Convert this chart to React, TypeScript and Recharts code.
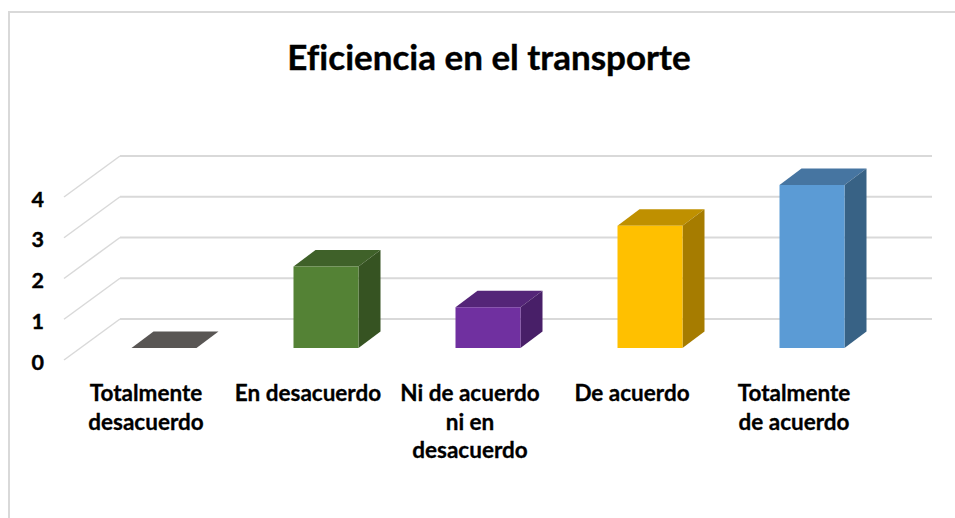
import { BarChart, Bar, XAxis, YAxis, CartesianGrid } from 'recharts';

const FONT = 'Lato, "Open Sans", sans-serif';

const categories = ['Totalmente desacuerdo', 'En desacuerdo', 'Ni de acuerdo ni en desacuerdo', 'De acuerdo', 'Totalmente de acuerdo'];
const categoryLines = [
    ['Totalmente', 'desacuerdo'],
    ['En desacuerdo'],
    ['Ni de acuerdo', 'ni en', 'desacuerdo'],
    ['De acuerdo'],
    ['Totalmente', 'de acuerdo'],
];
const values = [0, 2, 1, 3, 4];
const yTicks = [0, 1, 2, 3, 4];

// front / top / side of each box
const frontColors = ['#595654', '#548235', '#7030A0', '#FFC000', '#5B9BD5'];
const topColors = ['#595654', '#3F6129', '#542578', '#BF9000', '#4675A1'];
const sideColors = ['#4A4846', '#365322', '#481F68', '#A67C00', '#386285'];

const chartData = categories.map((name, i) => ({ name, value: values[i] }));

const DEPTH_X = 22;
const DEPTH_Y = 16.5;

function Box3D(props: any) {
    const { x, y, width, height, index } = props;
    const r = x + width;
    const b = y + height;
    return (
        <g>
            <polygon
                points={`${x},${y} ${x + DEPTH_X},${y - DEPTH_Y} ${r + DEPTH_X},${y - DEPTH_Y} ${r},${y}`}
                fill={topColors[index]}
            />
            <polygon
                points={`${r},${y} ${r + DEPTH_X},${y - DEPTH_Y} ${r + DEPTH_X},${b - DEPTH_Y} ${r},${b}`}
                fill={sideColors[index]}
            />
            {height > 0 && <rect x={x} y={y} width={width} height={height} fill={frontColors[index]} />}
        </g>
    );
}

// wall line: runs in from the axis, then along the back wall
function WallLine(props: any) {
    const y = props.y1;
    return (
        <g key={props.key}>
            <line x1={64} y1={y + 12} x2={120} y2={y - 29} stroke="#D9D9D9" strokeWidth={1.5} />
            <line x1={120} y1={y - 29} x2={932} y2={y - 29} stroke="#D9D9D9" strokeWidth={2} />
        </g>
    );
}

function YTick(props: any) {
    const { y, payload } = props;
    return (
        <text x={44} y={y + 21.5} textAnchor="end" fontFamily={FONT} fontWeight={700} fontSize={21.5} fill="#000" stroke="#000" strokeWidth={0.4}>
            {payload.value}
        </text>
    );
}

function XTick(props: any) {
    const { x, payload } = props;
    const lines = categoryLines[payload.index];
    return (
        <text textAnchor="middle" fontFamily={FONT} fontWeight={700} fontSize={22.5} fill="#000" stroke="#000" strokeWidth={0.3}>
            {lines.map((line: string, i: number) => (
                <tspan key={i} x={x - 17.5} y={401 + i * 28.5}>
                    {line}
                </tspan>
            ))}
        </text>
    );
}

export default function App() {
    return (
        <div style={{ position: 'absolute', left: 0, top: 0, width: 955, height: 518, background: '#fff', overflow: 'hidden' }}>
            <div style={{ position: 'absolute', left: 8, top: 11, right: 0, bottom: 0, borderLeft: '2px solid #D9D9D9', borderTop: '2px solid #D9D9D9' }} />
            <div
                style={{
                    position: 'absolute',
                    left: 189,
                    top: 35,
                    width: 600,
                    textAlign: 'center',
                    whiteSpace: 'nowrap',
                    fontFamily: FONT,
                    fontWeight: 700,
                    fontSize: 35,
                    lineHeight: '42px',
                    color: '#000',
                    fontVariantLigatures: 'none',
                    WebkitTextStroke: '0.4px #000',
                }}
            >
                Eficiencia en el transporte
            </div>
            <div style={{ position: 'absolute', left: 0, top: 0 }}>
                <BarChart width={955} height={518} data={chartData} margin={{ top: 185, right: 62.5, bottom: 0, left: 0 }}>
                    <CartesianGrid horizontal={WallLine} vertical={false} />
                    <XAxis dataKey="name" height={170} interval={0} axisLine={false} tickLine={false} tick={XTick} />
                    <YAxis width={82.5} domain={[0, 4]} ticks={yTicks} axisLine={false} tickLine={false} tick={YTick} />
                    <Bar dataKey="value" barSize={65} shape={Box3D} isAnimationActive={false} />
                </BarChart>
            </div>
        </div>
    );
}
